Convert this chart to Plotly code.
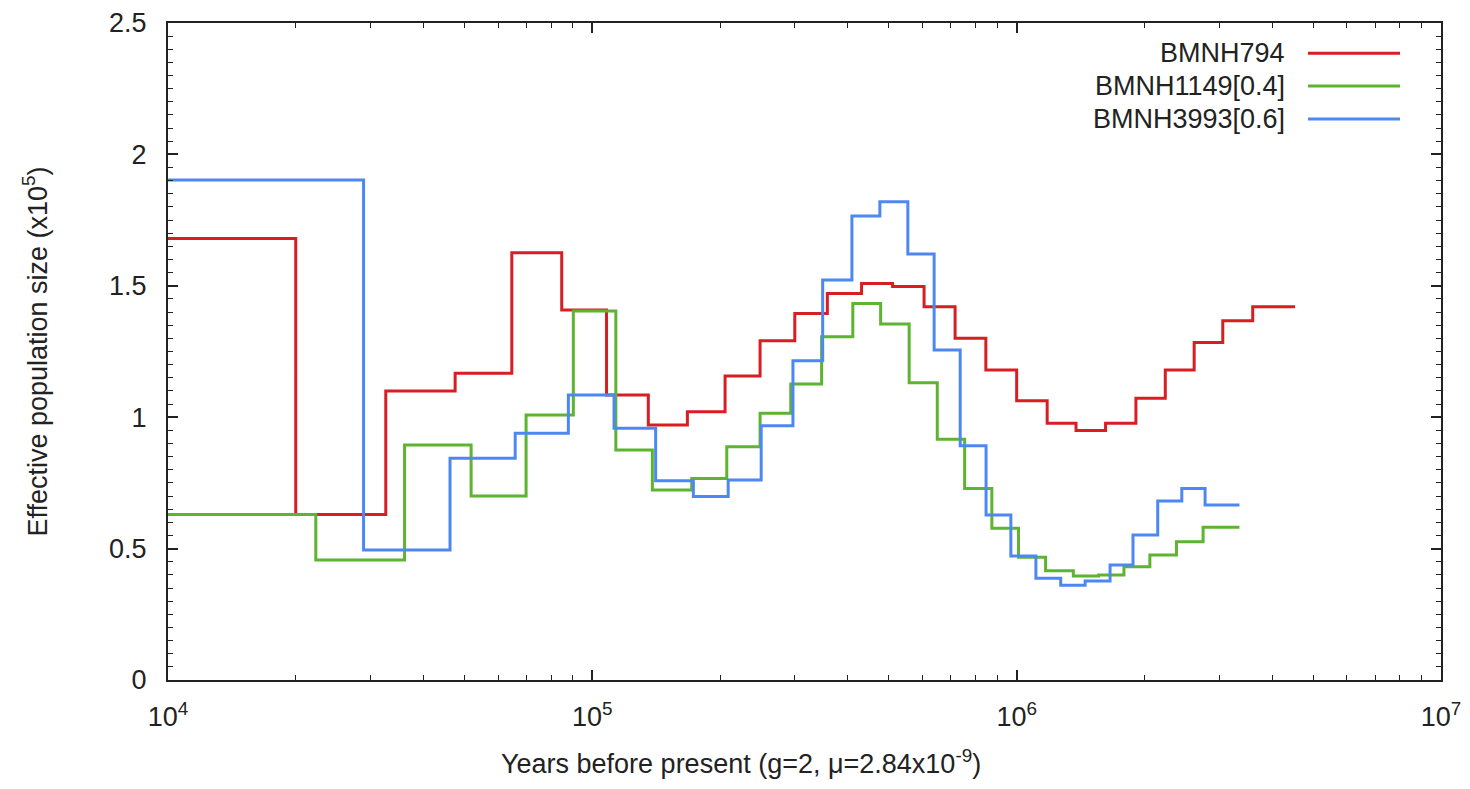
import plotly.graph_objects as go

# Step right edges (years) and Ne values (x1e5), each step starts at previous edge (first at 1e4)
start_year = 1e4

red_name = "BMNH794"
red_edges = [20.0e3, 32.6e3, 47.5e3, 64.6e3, 84.7e3, 108e3, 135.5e3, 167.5e3, 205.5e3, 248.5e3,
             300e3, 358e3, 431e3, 510e3, 605e3, 716e3, 846e3, 1.00e6, 1.18e6, 1.38e6,
             1.62e6, 1.91e6, 2.24e6, 2.62e6, 3.06e6, 3.60e6, 4.53e6]
red_vals = [1.68, 0.63, 1.10, 1.167, 1.626, 1.408, 1.084, 0.970, 1.021, 1.157,
            1.291, 1.395, 1.471, 1.509, 1.497, 1.420, 1.300, 1.180, 1.063, 0.977,
            0.949, 0.977, 1.072, 1.180, 1.284, 1.367, 1.420]

green_name = "BMNH1149[0.4]"
green_edges = [22.3e3, 36.1e3, 51.8e3, 69.8e3, 90.2e3, 113.6e3, 138.5e3, 171.5e3, 207.4e3, 248.5e3,
               293.5e3, 347e3, 411e3, 478e3, 558e3, 650e3, 754e3, 874e3, 1.01e6, 1.17e6,
               1.36e6, 1.56e6, 1.79e6, 2.06e6, 2.38e6, 2.75e6, 3.35e6]
green_vals = [0.63, 0.457, 0.894, 0.700, 1.008, 1.404, 0.875, 0.723, 0.767, 0.888,
              1.015, 1.126, 1.306, 1.433, 1.355, 1.131, 0.916, 0.729, 0.577, 0.467,
              0.416, 0.396, 0.400, 0.431, 0.476, 0.526, 0.581]

blue_name = "BMNH3993[0.6]"
blue_edges = [28.9e3, 46.2e3, 65.8e3, 87.8e3, 112.5e3, 141e3, 173e3, 209e3, 250e3, 297e3,
              349e3, 409e3, 476e3, 554e3, 639e3, 736e3, 847e3, 969e3, 1.11e6, 1.27e6,
              1.45e6, 1.66e6, 1.88e6, 2.15e6, 2.45e6, 2.78e6, 3.35e6]
blue_vals = [1.903, 0.495, 0.844, 0.939, 1.084, 0.958, 0.758, 0.698, 0.761, 0.967,
             1.215, 1.522, 1.766, 1.820, 1.621, 1.256, 0.891, 0.628, 0.472, 0.387,
             0.361, 0.377, 0.438, 0.552, 0.681, 0.729, 0.666]

x_tick_vals = [1e4, 1e5, 1e6, 1e7]
x_tick_text = ["10<sup>4</sup>", "10<sup>5</sup>", "10<sup>6</sup>", "10<sup>7</sup>"]

x_title = "Years before present (g=2, \u03bc=2.84x10<sup>-9</sup>)"
y_title = "Effective population size (x10<sup>5</sup>)"

series = [
    (red_name, red_edges, red_vals, "#d81e22"),
    (green_name, green_edges, green_vals, "#5db431"),
    (blue_name, blue_edges, blue_vals, "#4d88f2"),
]

FONT = "Liberation Sans, Arial, Helvetica, sans-serif"

fig = go.Figure()
for name, edges, vals, col in series:
    xs = [start_year] + edges
    ys = vals + [vals[-1]]
    fig.add_trace(go.Scatter(x=xs, y=ys, mode="lines", name=name,
                             line=dict(color=col, width=3, shape="hv"),
                             showlegend=False))

# gnuplot-style legend (text then line sample), top right inside plot
leg_y = [0.954, 0.904, 0.854]
for (name, edges, vals, col), ly in zip(series, leg_y):
    fig.add_annotation(xref="paper", yref="paper", x=0.879, y=ly, text=name,
                       showarrow=False, xanchor="right", yanchor="middle",
                       font=dict(family=FONT, size=27, color="#222"))
    fig.add_shape(type="line", xref="paper", yref="paper", x0=0.8955, x1=0.9678,
                  y0=ly, y1=ly, line=dict(color=col, width=3))

# x-axis title (placed like the reference, slightly left of plot centre)
fig.add_annotation(xref="paper", yref="paper", x=0.45, y=-0.125, text=x_title,
                   showarrow=False, xanchor="center", yanchor="middle",
                   font=dict(family=FONT, size=27, color="#222"))

minor_x = [k * 10 ** n for n in (4, 5, 6) for k in range(2, 10)]

fig.update_layout(
    width=1454, height=773,
    margin=dict(l=160, r=21, t=15, b=101),
    plot_bgcolor="white", paper_bgcolor="white",
    font=dict(family=FONT, size=27, color="#222"),
    xaxis=dict(
        type="log", range=[4, 7], automargin=False,
        tickvals=x_tick_vals, ticktext=x_tick_text,
        ticks="inside", ticklen=10, tickwidth=1.5, tickcolor="#222",
        minor=dict(tickvals=minor_x, ticks="inside", ticklen=5, tickwidth=1.2, tickcolor="#222", showgrid=False),
        showline=True, linecolor="#222", linewidth=2, mirror="allticks",
        showgrid=False, zeroline=False,
        tickfont=dict(size=27), ticklabelstandoff=12,
    ),
    yaxis=dict(
        range=[0, 2.5], dtick=0.5, tick0=0, automargin=False,
        ticks="inside", ticklen=10, tickwidth=1.5, tickcolor="#222",
        minor=dict(dtick=0.05, ticks="inside", ticklen=5, tickwidth=1.2, tickcolor="#222", showgrid=False),
        showline=True, linecolor="#222", linewidth=2, mirror="allticks",
        showgrid=False, zeroline=False,
        tickfont=dict(size=27), ticklabelstandoff=14,
        title=dict(text=y_title, font=dict(size=27), standoff=54),
    ),
)

fig.write_html("out.html")
